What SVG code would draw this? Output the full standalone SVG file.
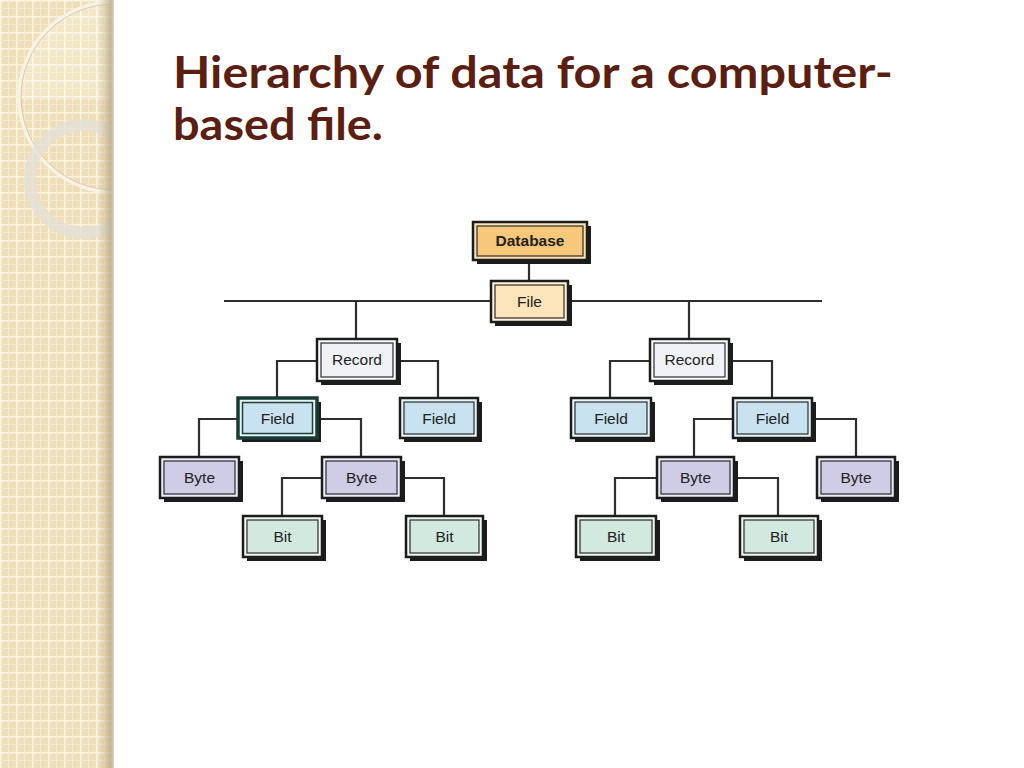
<svg xmlns="http://www.w3.org/2000/svg" width="1024" height="768" viewBox="0 0 1024 768">
<defs>
<style>
.sh{fill:#1c1c1c}
.ob{stroke:#1c1c1c;stroke-width:2.5}
.ib{stroke:#2a2a2a;stroke-width:1.2}
.lbl{font-family:"Liberation Sans",Arial,sans-serif;font-size:15.5px;fill:#222;text-anchor:middle}
.con{fill:none;stroke:#2e2e2e;stroke-width:2.2}
.title{font-family:Lato,"Open Sans",sans-serif;font-weight:bold;font-size:44px;fill:#5a1f12}
</style>
<pattern id="grid" width="16" height="16" patternUnits="userSpaceOnUse">
<rect width="16" height="16" fill="#efdfb8"/>
<path d="M0,0.75H16M0.75,0V16" stroke="#fcf5e4" stroke-width="1.6"/>
<path d="M0,8.5H16M8.5,0V16" stroke="#f6ead0" stroke-width="1"/>
</pattern>
<linearGradient id="edge" x1="0" y1="0" x2="1" y2="0">
<stop offset="0" stop-color="#c9b690" stop-opacity="0"/>
<stop offset="0.8" stop-color="#b9a988" stop-opacity="0.8"/>
<stop offset="1" stop-color="#d8d0c0" stop-opacity="0.9"/>
</linearGradient>
<clipPath id="band"><rect x="0" y="0" width="113" height="768"/></clipPath>
</defs>
<rect width="1024" height="768" fill="#ffffff"/>
<g id="band-bg">
<rect x="0" y="0" width="113" height="768" fill="url(#grid)"/>
<g clip-path="url(#band)">
<path d="M20,100 A95,95 0 0 1 113,2 L113,100 Z" fill="#ffffff" opacity="0.25"/>
<circle cx="114" cy="97" r="95" fill="none" stroke="#f8f3e8" stroke-width="3.5"/>
<circle cx="114" cy="97" r="93" fill="none" stroke="#c8b898" stroke-width="1" opacity="0.6"/>
<circle cx="84" cy="179" r="54" fill="none" stroke="#e4e0d6" stroke-width="12" opacity="0.8"/>
</g>
<rect x="98" y="0" width="16" height="768" fill="url(#edge)"/>
</g>
<g id="title">
<text class="title" x="173" y="88" textLength="720" lengthAdjust="spacingAndGlyphs">Hierarchy of data for a computer-</text>
<text class="title" x="173" y="140" textLength="210" lengthAdjust="spacingAndGlyphs">based file.</text>
</g>
<g id="connectors">
<path class="con" d="M529,260V281"/>
<path class="con" d="M224,301H822"/>
<path class="con" d="M356,301V339M689,301V339"/>
<path class="con" d="M317,361H277V398M397,361H438V398"/>
<path class="con" d="M650,361H610V398M729,361H772V398"/>
<path class="con" d="M238,419H199V457M317,419H361V457"/>
<path class="con" d="M733,419H694V457M812,419H856V457"/>
<path class="con" d="M322,478H282V516M401,478H444V516"/>
<path class="con" d="M657,478H615V516M734,478H778V516"/>
</g>
<g id="database">
<rect class="sh" x="477" y="226" width="114" height="38"/>
<rect class="ob" x="473" y="222" width="114" height="38" fill="#fde2b0"/>
<rect class="ib" x="477" y="226" width="106" height="30" fill="#f8c87a"/>
<text class="lbl" x="530" y="246" font-weight="bold">Database</text>
</g>
<g id="file">
<rect class="sh" x="495" y="285" width="77" height="41"/>
<rect class="ob" x="491" y="281" width="77" height="41" fill="#fff3dc"/>
<rect class="ib" x="495" y="285" width="69" height="33" fill="#fde5bb"/>
<text class="lbl" x="529.5" y="307">File</text>
</g>
<g id="record-left">
<rect class="sh" x="321" y="343" width="80" height="42"/>
<rect class="ob" x="317" y="339" width="80" height="42" fill="#ffffff"/>
<rect class="ib" x="321" y="343" width="72" height="34" fill="#f1f2f7"/>
<text class="lbl" x="357" y="365">Record</text>
</g>
<g id="record-right">
<rect class="sh" x="654" y="343" width="79" height="42"/>
<rect class="ob" x="650" y="339" width="79" height="42" fill="#ffffff"/>
<rect class="ib" x="654" y="343" width="71" height="34" fill="#f1f2f7"/>
<text class="lbl" x="689.5" y="365">Record</text>
</g>
<g id="field-1">
<rect class="sh" x="242" y="402" width="79" height="40"/>
<rect x="238" y="398" width="79" height="40" fill="#e6f3f7" stroke="#173a33" stroke-width="3.5"/>
<rect x="242.5" y="402.5" width="70" height="31" fill="#c8e2ef" stroke="#1d3f38" stroke-width="1.5"/>
<text class="lbl" x="277.5" y="424">Field</text>
</g>
<g id="field-2">
<rect class="sh" x="404" y="402" width="78" height="40"/>
<rect class="ob" x="400" y="398" width="78" height="40" fill="#e8f4f8"/>
<rect class="ib" x="404" y="402" width="70" height="32" fill="#c8e2ef"/>
<text class="lbl" x="439" y="424">Field</text>
</g>
<g id="field-3">
<rect class="sh" x="575" y="402" width="80" height="40"/>
<rect class="ob" x="571" y="398" width="80" height="40" fill="#e8f4f8"/>
<rect class="ib" x="575" y="402" width="72" height="32" fill="#c8e2ef"/>
<text class="lbl" x="611" y="424">Field</text>
</g>
<g id="field-4">
<rect class="sh" x="737" y="402" width="79" height="40"/>
<rect class="ob" x="733" y="398" width="79" height="40" fill="#e8f4f8"/>
<rect class="ib" x="737" y="402" width="71" height="32" fill="#c8e2ef"/>
<text class="lbl" x="772.5" y="424">Field</text>
</g>
<g id="byte-1">
<rect class="sh" x="164" y="461" width="79" height="41"/>
<rect class="ob" x="160" y="457" width="79" height="41" fill="#ebeaf5"/>
<rect class="ib" x="164" y="461" width="71" height="33" fill="#cfcce6"/>
<text class="lbl" x="199.5" y="483">Byte</text>
</g>
<g id="byte-2">
<rect class="sh" x="326" y="461" width="79" height="41"/>
<rect class="ob" x="322" y="457" width="79" height="41" fill="#ebeaf5"/>
<rect class="ib" x="326" y="461" width="71" height="33" fill="#cfcce6"/>
<text class="lbl" x="361.5" y="483">Byte</text>
</g>
<g id="byte-3">
<rect class="sh" x="661" y="461" width="77" height="41"/>
<rect class="ob" x="657" y="457" width="77" height="41" fill="#ebeaf5"/>
<rect class="ib" x="661" y="461" width="69" height="33" fill="#cfcce6"/>
<text class="lbl" x="695.5" y="483">Byte</text>
</g>
<g id="byte-4">
<rect class="sh" x="821" y="461" width="78" height="41"/>
<rect class="ob" x="817" y="457" width="78" height="41" fill="#ebeaf5"/>
<rect class="ib" x="821" y="461" width="70" height="33" fill="#cfcce6"/>
<text class="lbl" x="856" y="483">Byte</text>
</g>
<g id="bit-1">
<rect class="sh" x="247" y="520" width="79" height="41"/>
<rect class="ob" x="243" y="516" width="79" height="41" fill="#eef7f2"/>
<rect class="ib" x="247" y="520" width="71" height="33" fill="#d2e9df"/>
<text class="lbl" x="282.5" y="542">Bit</text>
</g>
<g id="bit-2">
<rect class="sh" x="410" y="520" width="77" height="41"/>
<rect class="ob" x="406" y="516" width="77" height="41" fill="#eef7f2"/>
<rect class="ib" x="410" y="520" width="69" height="33" fill="#d2e9df"/>
<text class="lbl" x="444.5" y="542">Bit</text>
</g>
<g id="bit-3">
<rect class="sh" x="580" y="520" width="80" height="41"/>
<rect class="ob" x="576" y="516" width="80" height="41" fill="#eef7f2"/>
<rect class="ib" x="580" y="520" width="72" height="33" fill="#d2e9df"/>
<text class="lbl" x="616" y="542">Bit</text>
</g>
<g id="bit-4">
<rect class="sh" x="744" y="520" width="78" height="41"/>
<rect class="ob" x="740" y="516" width="78" height="41" fill="#eef7f2"/>
<rect class="ib" x="744" y="520" width="70" height="33" fill="#d2e9df"/>
<text class="lbl" x="779" y="542">Bit</text>
</g>
</svg>
